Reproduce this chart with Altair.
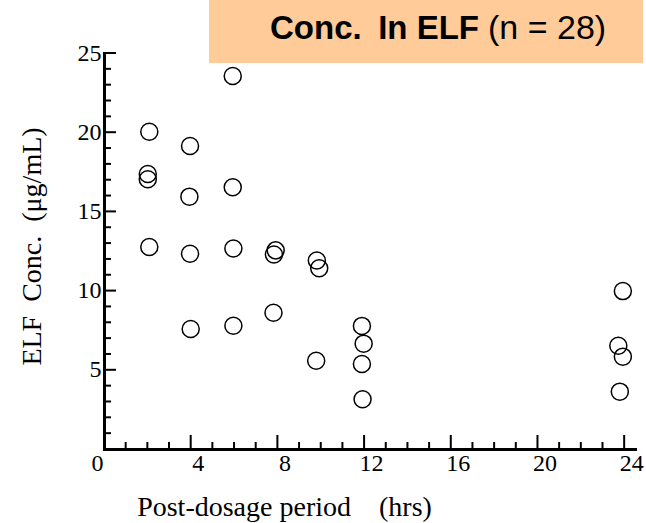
import altair as alt
import pandas as pd

# Data
hours = [2.09, 2.02, 2.02, 2.09, 3.97, 3.94, 3.97, 4.00, 5.94, 5.94, 5.97, 5.97,
         7.92, 7.84, 7.82, 9.82, 9.93, 9.79, 11.90, 11.98, 11.90, 11.93,
         23.94, 23.73, 23.94, 23.80]
conc = [20.03, 17.36, 17.03, 12.75, 19.13, 15.93, 12.33, 7.58, 23.55, 16.52, 12.66, 7.78,
        12.54, 12.28, 8.60, 11.90, 11.41, 5.57, 7.77, 6.65, 5.37, 3.14,
        9.97, 6.52, 5.83, 3.62]

x_major = [0, 4, 8, 12, 16, 20, 24]
x_minor = [1, 2, 3, 5, 6, 7, 9, 10, 11, 13, 14, 15, 17, 18, 19, 21, 22, 23]
y_major = [5, 10, 15, 20, 25]
y_minor = [1, 2, 3, 4, 6, 7, 8, 9, 11, 12, 13, 14, 16, 17, 18, 19, 21, 22, 23, 24]

title_bold = "Conc.\u2002In ELF"
title_regular = "(n = 28)"
x_title = "Post-dosage period\u2002\u2002(hrs)"
y_title = "ELF\u2002Conc.\u2002(\u03bcg/mL)"

W, H = 531, 396
xscale = alt.Scale(domain=[0, 24.5], nice=False, zero=False)
yscale = alt.Scale(domain=[0, 25], nice=False, zero=False)

x_axis = alt.Axis(
    values=x_major, ticks=False, grid=False, domainWidth=3, domainColor="black",
    domainCap="square", labelFlush=False,
    labelFont="Liberation Serif", labelFontSize=24, labelColor="black", labelPadding=2,
    labelOffset={"condition": {"test": "datum.value === 0", "value": -7}, "value": 7},
    title=x_title, titleFont="Liberation Serif", titleFontSize=28,
    titleFontWeight="normal", titleColor="black",
    titleX=180, titleY=66, titleAlign="center", titleBaseline="alphabetic",
)
y_axis = alt.Axis(
    values=y_major, ticks=False, grid=False, domainWidth=3, domainColor="black",
    domainCap="square", labelFlush=False,
    labelFont="Liberation Serif", labelFontSize=24, labelColor="black", labelPadding=3,
    title=y_title, titleFont="Liberation Serif", titleFontSize=28,
    titleFontWeight="normal", titleColor="black",
    titleX=-64, titleY=193, titleAngle=-90, titleAlign="center", titleBaseline="alphabetic",
)

def X():
    return alt.X("x:Q", scale=xscale, axis=x_axis)

def Y():
    return alt.Y("y:Q", scale=yscale, axis=y_axis)

pts = pd.DataFrame({"x": hours, "y": conc})

scatter = alt.Chart(pts).mark_point(
    shape="circle", filled=False, size=290, stroke="black", strokeWidth=1.5, opacity=1
).encode(x=X(), y=Y())

def yticks(vals, length):
    return alt.Chart(pd.DataFrame({"y": vals})).mark_rule(color="black", strokeWidth=2).encode(
        y=Y(), x=alt.value(0), x2=alt.value(length))

def xticks(vals, length):
    return alt.Chart(pd.DataFrame({"x": vals})).mark_rule(color="black", strokeWidth=2).encode(
        x=X(), y=alt.value(H), y2=alt.value(H - length))

one = pd.DataFrame({"k": [0]})
box = alt.Chart(one).mark_rect(color="#FFCC99", clip=False).encode(
    x=alt.value(105), x2=alt.value(539), y=alt.value(-53), y2=alt.value(10))
t1 = alt.Chart(one).mark_text(
    text=title_bold, font="Liberation Sans", fontWeight="bold", fontSize=33,
    align="left", baseline="alphabetic", color="black").encode(
    x=alt.value(166), y=alt.value(-14))
t2 = alt.Chart(one).mark_text(
    text=title_regular, font="Liberation Sans", fontSize=34,
    align="left", baseline="alphabetic", color="black").encode(
    x=alt.value(384), y=alt.value(-14))

chart = alt.layer(
    scatter, box, yticks(y_minor, 7), yticks(y_major, 12), xticks(x_minor, 7), xticks(x_major, 14),
    t1, t2
).properties(
    width=W, height=H,
    padding={"left": 104, "top": 53, "right": 11, "bottom": 74},
    autosize=alt.AutoSizeParams(type="none"),
    background="white",
).configure_view(stroke=None)

chart.save("out.html", embed_options={"renderer": "svg", "actions": False})
